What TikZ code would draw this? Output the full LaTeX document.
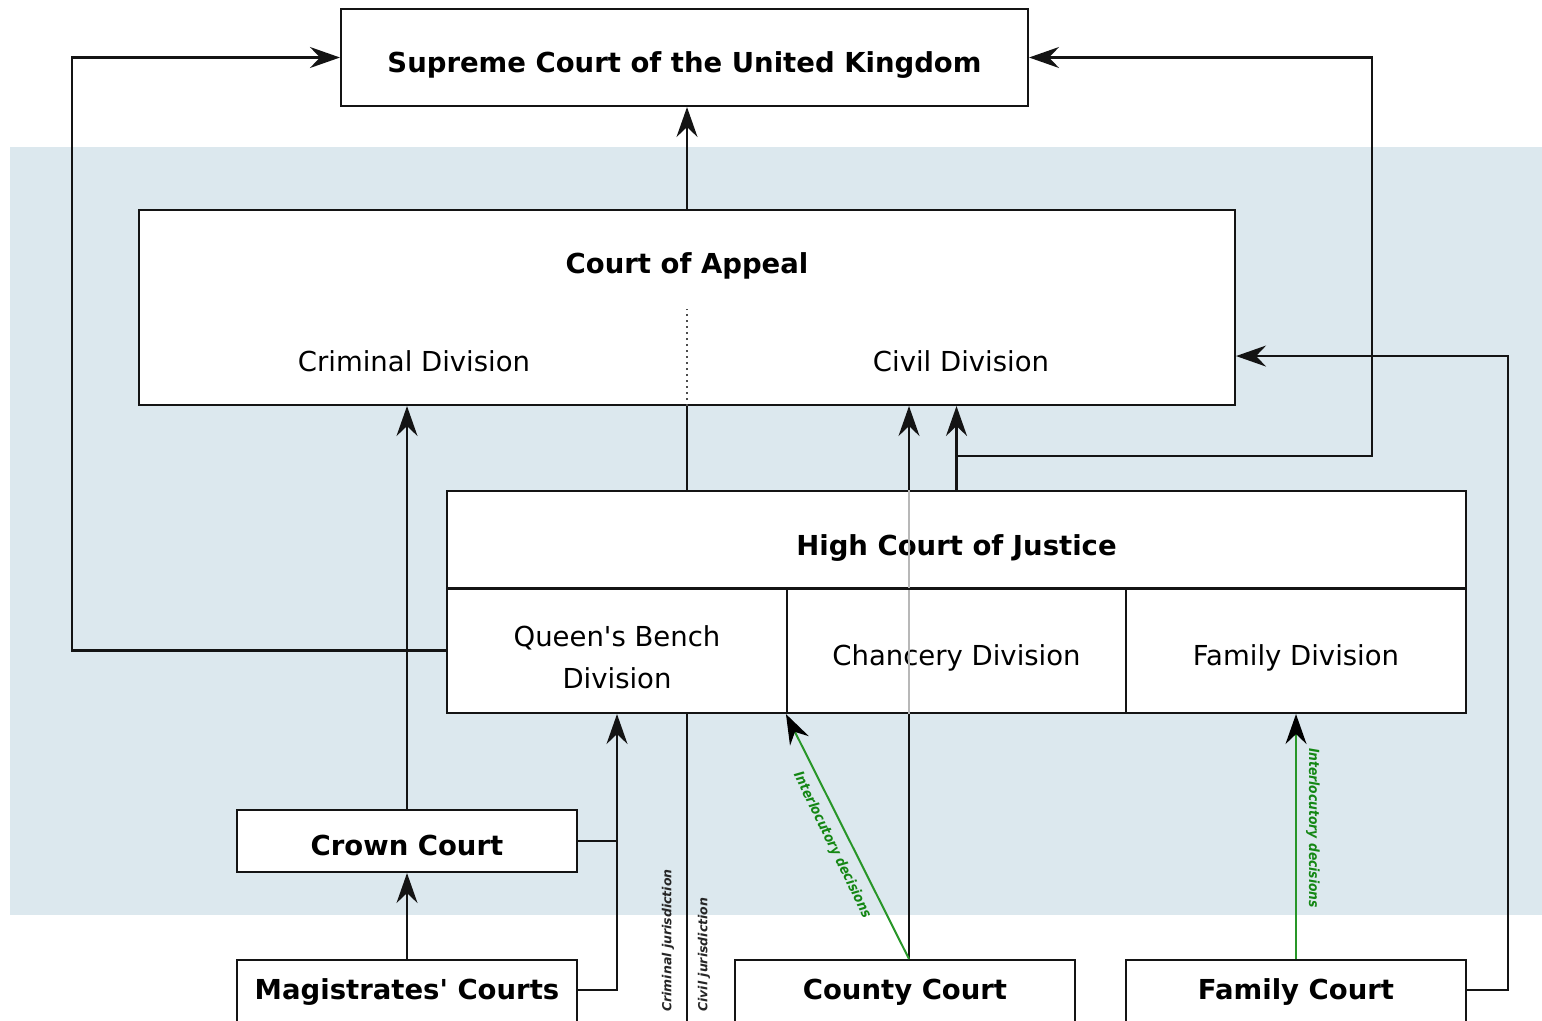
\documentclass[tikz,border=0pt]{standalone}
\usepackage{fontspec}
\newfontfamily\dvs{DejaVu Sans}
\newfontfamily\dvscond[FakeStretch=0.88]{DejaVu Sans}
\usetikzlibrary{arrows.meta,calc}
\pgfdeclarelayer{bg}
\pgfdeclarelayer{back}
\pgfsetlayers{bg,back,main}
\definecolor{bgblue}{RGB}{220,232,238}
\definecolor{lineclr}{RGB}{20,20,20}
\definecolor{grn}{RGB}{40,150,40}
\definecolor{grntxt}{RGB}{20,135,20}
\begin{document}
\begin{tikzpicture}[x=1pt,y=-1pt,
  reg/.style={font=\dvs\fontsize{27.5}{42}\selectfont},
  bld/.style={font=\dvs\fontsize{27.5}{42}\selectfont\bfseries},
  box/.style={draw=lineclr, line width=2.1pt, fill=white, inner sep=0pt},
  conn/.style={draw=lineclr, line width=2.1pt},
  arr/.style={conn, -{Stealth[length=30pt,width=21pt,inset=10pt]}},
  garr/.style={draw=grn, line width=2pt, -{Stealth[length=30pt,width=21pt,inset=10pt,color=black]}},
  jur/.style={font=\dvs\fontsize{12.5}{14}\selectfont\bfseries\itshape, text=black!85, inner sep=0pt},
  grnlbl/.style={font=\dvscond\fontsize{14}{16}\selectfont\bfseries\itshape, text=grntxt, inner sep=0pt},
  dotline/.style={draw=black!70, line width=2pt, dash pattern=on 2pt off 4pt},
  behind/.style={draw=black!28, line width=2pt},
]
\useasboundingbox (0,0) rectangle (1542,1020);
\clip (0,0) rectangle (1542,1020);

\begin{pgfonlayer}{bg}
  \fill[bgblue] (10,147) rectangle (1542,915);
\end{pgfonlayer}

% boxes
\node[box, bld, minimum width=687, text height=63, text depth=34] (sc) at (684.5,57.5) {Supreme Court of the United Kingdom};
\node[box, minimum width=1096, minimum height=195] (coa) at (687,307.5) {};
\node[bld, anchor=base] (coat) at (687,273) {Court of Appeal};
\node[reg, anchor=base] (crim) at (414,371) {Criminal Division};
\node[reg, anchor=base] (civ) at (961,371) {Civil Division};

\node[box, bld, minimum width=1019, text height=64, text depth=33] (hc) at (956.5,539.5) {High Court of Justice};
\node[box, minimum width=340, minimum height=125] (qb) at (617,650.5) {};
\node[reg, align=center] (qbt) at (617,657) {Queen's Bench\\Division};
\node[box, reg, minimum width=339, text height=77, text depth=48] (ch) at (956.5,650.5) {Chancery Division};
\node[box, reg, minimum width=340, text height=77, text depth=48] (fd) at (1296,650.5) {Family Division};

\node[box, bld, minimum width=340, text height=45, text depth=17] (crown) at (407,841) {Crown Court};
\node[box, bld, minimum width=340, text height=39, text depth=31] (mag) at (407,995) {Magistrates' Courts};
\node[box, bld, minimum width=340, text height=39, text depth=31] (county) at (905,995) {County Court};
\node[box, bld, minimum width=340, text height=39, text depth=31] (fam) at (1296,995) {Family Court};

% helper coordinates
\coordinate (cctop) at ($(county.north)+(4,0)$);
\coordinate (br) at (956.5,456);
\coordinate (jend) at (687,1030);

% county court to civil division, passing behind the High Court
\begin{pgfonlayer}{back}
  \draw[arr] (cctop) -- (cctop |- coa.south);
\end{pgfonlayer}
\draw[behind] (cctop |- ch.south) -- (cctop |- hc.north);
\draw[box, fill=none] (hc.south west) -- (hc.south east);

% connectors
\draw[arr] (coa.north) -- (coa.north |- sc.south);
\draw[arr] (qb.west) -- ++(-374,0) |- (sc.west);
\draw[arr] (br) -- ++(415.5,0) |- (sc.east);
\draw[arr] (hc.north) -- (hc.north |- coa.south);
\draw[dotline] (coa.south) -- ++(0,-97);
\draw[conn] (coa.south) -- (coa.south |- hc.north);
\draw[conn] (coa.south |- qb.south) -- (jend);
\draw[arr] (crown.north) -- (crown.north |- coa.south);
\draw[arr] (mag.north) -- (crown.south);
\draw[arr] ($(mag.north east)+(0,31)$) -| (qb.south);
\draw[conn] (crown.east) -- (crown.east -| qb.south);
\draw[arr] ($(fam.north east)+(0,31)$) -- ++(41,0) |- ($(coa.south east)+(0,-50)$);
\draw[garr] (cctop) -- (ch.south west);
\draw[garr] (fam.north) -- (fd.south);

% labels
\node[grnlbl, rotate=-64] (il1) at (832,845) {Interlocutory decisions};
\node[grnlbl, rotate=-90] (il2) at (1313,828) {Interlocutory decisions};
\node[jur, rotate=90, anchor=west] (cj) at (668,1012) {Criminal jurisdiction};
\node[jur, rotate=90, anchor=west] (vj) at (704,1012) {Civil jurisdiction};
\end{tikzpicture}
\end{document}
